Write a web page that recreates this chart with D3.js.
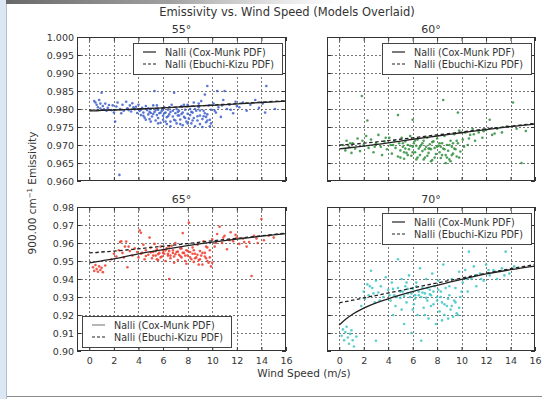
<!DOCTYPE html>
<html><head><meta charset="utf-8">
<script src="https://cdn.jsdelivr.net/npm/d3@7"></script>
<style>
html,body{margin:0;padding:0;background:#fff;}
svg{display:block;font-family:"DejaVu Sans",sans-serif;}
</style></head>
<body>
<svg id="c" width="542" height="399"></svg>
<script>
// ---- data ----
const windTicks = [0,2,4,6,8,10,12,14,16];
const modelWind = [0,0.5,1,2,4,6,8,10,12,14,16];
const yTicksTop = [0.960,0.965,0.970,0.975,0.980,0.985,0.990,0.995,1.000];
const yTicksBottom = [0.90,0.91,0.92,0.93,0.94,0.95,0.96,0.97,0.98];
const panelTitles = ["55°","60°","65°","70°"];
const legendLabels = ["Nalli (Cox-Munk PDF)","Nalli (Ebuchi-Kizu PDF)"];

const coxMunk55 = [0.9795,0.9795,0.9796,0.9797,0.9800,0.9803,0.9807,0.9810,0.9814,0.9818,0.9822];
const ebuchi55  = [0.9797,0.9797,0.9797,0.9798,0.9800,0.9803,0.9807,0.9811,0.9815,0.9819,0.9823];
const coxMunk60 = [0.9689,0.9691,0.9693,0.9697,0.9706,0.9716,0.9725,0.9734,0.9743,0.9751,0.9758];
const ebuchi60  = [0.9700,0.9701,0.9702,0.9705,0.9712,0.9720,0.9728,0.9736,0.9745,0.9752,0.9760];
const coxMunk65 = [0.9490,0.9495,0.9501,0.9512,0.9540,0.9563,0.9585,0.9605,0.9622,0.9638,0.9652];
const ebuchi65  = [0.9545,0.9547,0.9550,0.9555,0.9568,0.9582,0.9597,0.9612,0.9626,0.9640,0.9655];
const coxMunk70 = [0.9144,0.9175,0.9200,0.9238,0.9290,0.9330,0.9365,0.9398,0.9428,0.9452,0.9472];
const ebuchi70  = [0.9267,0.9274,0.9281,0.9295,0.9322,0.9350,0.9378,0.9405,0.9432,0.9457,0.9480];

const obs55 = [[0.4,0.9822],[0.5,0.9818],[0.6,0.9812],[0.7,0.9805],[0.8,0.9825],[0.9,0.9801],[1.0,0.9845],[1.1,0.9808],[1.2,0.9799],[1.3,0.9815],[1.5,0.9803],[1.6,0.9811],[1.8,0.9797],[2.0,0.9790],[2.1,0.9765],[2.2,0.9807],[2.3,0.9818],[2.45,0.9617],[2.5,0.9800],[2.7,0.9812],[2.8,0.9795],[3.0,0.9820],[3.1,0.9802],[3.3,0.9810],[3.4,0.9793],[3.5,0.9816],[3.7,0.9799],[3.8,0.9806],[3.9,0.9789],
[4.0,0.9812],[4.1,0.9795],[4.2,0.9783],[4.3,0.9803],[4.4,0.9790],[4.5,0.9776],[4.6,0.9808],[4.7,0.9797],[4.8,0.9785],[4.9,0.9772],[5.0,0.9800],[5.0,0.9789],[5.1,0.9779],[5.2,0.9810],[5.3,0.9850],[5.3,0.9792],[5.4,0.9768],[5.5,0.9783],[5.6,0.9798],[5.6,0.9775],[5.7,0.9788],[5.8,0.9762],[5.9,0.9795],[6.0,0.9781],[6.0,0.9770],[6.1,0.9805],[6.2,0.9790],[6.3,0.9758],[6.3,0.9777],[6.4,0.9798],[6.5,0.9785],[6.6,0.9765],[6.6,0.9792],[6.7,0.9812],[6.8,0.9779],[6.9,0.9845],[6.9,0.9770],[7.0,0.9788],[7.1,0.9800],[7.1,0.9760],[7.2,0.9782],[7.3,0.9795],[7.4,0.9771],[7.5,0.9808],[7.5,0.9786],[7.6,0.9755],[7.7,0.9778],[7.8,0.9798],[7.9,0.9765],[8.0,0.9812],[8.0,0.9787],[8.1,0.9773],[8.2,0.9800],[8.3,0.9760],[8.4,0.9790],[8.5,0.9818],[8.5,0.9775],[8.6,0.9752],[8.7,0.9795],[8.8,0.9768],[8.9,0.9805],[9.0,0.9782],[9.0,0.9758],[9.1,0.9822],[9.2,0.9772],[9.3,0.9795],[9.4,0.9840],[9.5,0.9763],[9.6,0.9864],[9.6,0.9785],[9.7,0.9810],[9.8,0.9770],[9.9,0.9798],
[10.1,0.9815],[10.3,0.9790],[10.4,0.9850],[10.5,0.9805],[10.7,0.9778],[10.9,0.9825],[11.0,0.9850],[11.2,0.9800],[11.4,0.9812],[11.7,0.9788],[11.9,0.9820],[12.2,0.9805],[12.5,0.9818],[12.8,0.9795],[13.1,0.9812],[13.5,0.9825],[13.8,0.9803],[14.1,0.9815],[14.3,0.9790],[14.4,0.9864],[15.1,0.9800],
[4.2,0.9798],[4.4,0.9781],[4.6,0.9770],[4.8,0.9802],[5.0,0.9765],[5.2,0.9786],[5.4,0.9797],[5.6,0.9760],[5.8,0.9790],[6.0,0.9800],[6.2,0.9765],[6.4,0.9780],[6.6,0.9752],[6.8,0.9795],[7.0,0.9768],[7.2,0.9792],[7.4,0.9758],[7.6,0.9790],[7.8,0.9775],[8.0,0.9760],[8.2,0.9783],[8.4,0.9768],[8.6,0.9800],[8.8,0.9780],[9.0,0.9796],[9.2,0.9750],[9.4,0.9788],[9.6,0.9768],[9.8,0.9752],[5.5,0.9810],[6.5,0.9805],[7.7,0.9812],[8.9,0.9815],[9.3,0.9780],[4.9,0.9792],[6.1,0.9788],[7.3,0.9782],[8.3,0.9792],[1.4,0.9795],[1.9,0.9810],[2.6,0.9788],[3.2,0.9797],[3.6,0.9805],[0.9,0.9815],[10.2,0.9795],[10.8,0.9810],[11.5,0.9798],[12.0,0.9808],[9.9,0.9760],[9.5,0.9778]];

const obs60 = [[0.3,0.9700],[0.5,0.9685],[0.6,0.9712],[0.8,0.9695],[1.0,0.9678],[1.1,0.9705],[1.3,0.9690],[1.5,0.9718],[1.7,0.9683],[1.85,0.9836],[2.0,0.9700],[2.2,0.9725],[2.3,0.9768],[2.4,0.9692],[2.6,0.9715],[2.8,0.9680],[3.0,0.9705],[3.2,0.9728],[3.4,0.9695],[3.5,0.9672],[3.7,0.9710],[3.9,0.9688],
[4.1,0.9720],[4.2,0.9700],[4.3,0.9676],[4.5,0.9712],[4.6,0.9692],[4.8,0.9783],[4.8,0.9668],[4.9,0.9705],[5.0,0.9685],[5.1,0.9720],[5.2,0.9695],[5.3,0.9662],[5.4,0.9710],[5.5,0.9678],[5.6,0.9700],[5.7,0.9688],[5.8,0.9725],[5.9,0.9670],[6.0,0.9770],[6.0,0.9695],[6.1,0.9705],[6.2,0.9680],[6.3,0.9660],[6.4,0.9715],[6.5,0.9690],[6.6,0.9672],[6.7,0.9700],[6.8,0.9683],[6.9,0.9712],[7.0,0.9665],[7.1,0.9695],[7.2,0.9720],[7.3,0.9678],[7.4,0.9702],[7.5,0.9688],[7.6,0.9658],[7.7,0.9710],[7.8,0.9692],[7.9,0.9675],[8.0,0.9718],[8.1,0.9698],[8.2,0.9680],[8.3,0.9664],[8.4,0.9705],[8.5,0.9825],[8.5,0.9690],[8.6,0.9725],[8.7,0.9672],[8.8,0.9700],[8.9,0.9684],[9.0,0.9660],[9.1,0.9712],[9.2,0.9695],[9.3,0.9676],[9.4,0.9730],[9.5,0.9688],[9.6,0.9668],[9.7,0.9790],[9.7,0.9705],[9.8,0.9740],[9.9,0.9682],
[10.1,0.9715],[10.3,0.9735],[10.5,0.9700],[10.7,0.9728],[10.9,0.9745],[11.1,0.9712],[11.4,0.9735],[11.7,0.9720],[12.0,0.9742],[12.3,0.9770],[12.5,0.9728],[12.9,0.9745],[13.3,0.9735],[13.7,0.9752],[14.2,0.9818],[14.5,0.9745],[14.9,0.9650],[15.25,0.9739],
[5.0,0.9665],[5.2,0.9705],[5.4,0.9690],[5.6,0.9672],[5.8,0.9698],[6.0,0.9680],[6.2,0.9712],[6.4,0.9665],[6.6,0.9695],[6.8,0.9705],[7.0,0.9688],[7.2,0.9670],[7.4,0.9690],[7.6,0.9708],[7.8,0.9665],[8.0,0.9695],[8.2,0.9705],[8.4,0.9672],[8.6,0.9688],[8.8,0.9665],[9.0,0.9700],[9.2,0.9672],[9.4,0.9690],[9.6,0.9712],[9.8,0.9665],[5.3,0.9680],[6.3,0.9698],[7.3,0.9690],[8.3,0.9695],[9.3,0.9705],[4.4,0.9700],[3.8,0.9720],[2.9,0.9695],[1.9,0.9712],[0.9,0.9705],[10.2,0.9695],[10.6,0.9718],[11.0,0.9730],[11.8,0.9738],[12.7,0.9732],[7.5,0.9655],[8.7,0.9650],[9.1,0.9655],[6.9,0.9660]];

const obs65 = [[0.3,0.9465],[0.4,0.9445],[0.5,0.9478],[0.6,0.9455],[0.7,0.9440],[0.8,0.9470],[0.9,0.9450],[1.0,0.9462],[1.1,0.9438],[1.3,0.9475],[1.8,0.9510],[2.0,0.9540],[2.2,0.9525],[2.4,0.9560],[2.5,0.9605],[2.6,0.9610],[2.7,0.9545],[2.9,0.9580],[3.0,0.9608],[3.1,0.9465],[3.3,0.9555],[3.5,0.9530],[3.7,0.9570],
[4.0,0.9520],[4.1,0.9670],[4.2,0.9657],[4.3,0.9545],[4.4,0.9590],[4.5,0.9510],[4.6,0.9560],[4.8,0.9535],[4.9,0.9630],[5.0,0.9575],[5.1,0.9515],[5.2,0.9550],[5.3,0.9595],[5.4,0.9530],[5.5,0.9565],[5.6,0.9505],[5.7,0.9545],[5.8,0.9580],[5.9,0.9525],[6.0,0.9560],[6.1,0.9540],[6.2,0.9500],[6.3,0.9570],[6.4,0.9530],[6.5,0.9400],[6.5,0.9555],[6.6,0.9515],[6.7,0.9585],[6.8,0.9545],[6.9,0.9525],[7.0,0.9600],[7.1,0.9550],[7.2,0.9505],[7.3,0.9535],[7.4,0.9570],[7.5,0.9520],[7.6,0.9655],[7.7,0.9545],[7.8,0.9500],[7.9,0.9560],[8.0,0.9530],[8.1,0.9713],[8.2,0.9550],[8.3,0.9510],[8.4,0.9575],[8.5,0.9495],[8.6,0.9540],[8.7,0.9520],[8.8,0.9590],[8.9,0.9505],[9.0,0.9555],[9.1,0.9530],[9.2,0.9480],[9.3,0.9610],[9.4,0.9545],[9.5,0.9515],[9.6,0.9575],[9.7,0.9490],[9.8,0.9560],[9.9,0.9470],
[10.0,0.9620],[10.2,0.9580],[10.4,0.9650],[10.6,0.9690],[10.8,0.9600],[11.0,0.9640],[11.2,0.9565],[11.5,0.9660],[11.7,0.9610],[11.9,0.9645],[12.2,0.9595],[12.5,0.9625],[12.8,0.9580],[13.0,0.9605],[13.2,0.9417],[13.4,0.9640],[13.7,0.9600],[14.0,0.9733],[14.2,0.9615],[14.6,0.9640],[15.0,0.9630],
[4.2,0.9540],[4.6,0.9528],[5.0,0.9548],[5.2,0.9530],[5.4,0.9555],[5.6,0.9538],[5.8,0.9520],[6.0,0.9545],[6.2,0.9558],[6.4,0.9540],[6.6,0.9530],[6.8,0.9560],[7.0,0.9538],[7.2,0.9552],[7.4,0.9528],[7.6,0.9545],[7.8,0.9530],[8.0,0.9555],[8.2,0.9520],[8.4,0.9540],[8.6,0.9515],[8.8,0.9535],[9.0,0.9510],[9.2,0.9545],[9.4,0.9525],[9.6,0.9500],[9.8,0.9520],[10.0,0.9490],[5.5,0.9510],[6.5,0.9580],[7.5,0.9570],[8.5,0.9560],[9.5,0.9580],[3.9,0.9550],[3.2,0.9580],[2.8,0.9520],[10.3,0.9600],[10.9,0.9630],[11.4,0.9615],[12.0,0.9630],[12.6,0.9605],[13.6,0.9625],[6.9,0.9490],[7.9,0.9485],[8.9,0.9480]];

const obs70 = [[0.2,0.9085],[0.3,0.9120],[0.4,0.9060],[0.5,0.9105],[0.6,0.9135],[0.7,0.9075],[0.8,0.9040],[0.9,0.9095],[1.0,0.9115],[1.1,0.9060],[1.2,0.9025],[1.4,0.9080],[1.8,0.9250],[2.0,0.9330],[2.1,0.9290],[2.3,0.9370],[2.4,0.9310],[2.6,0.9446],[2.7,0.9350],[2.9,0.9270],[3.0,0.9057],[3.0,0.9390],[3.2,0.9325],[3.4,0.9360],[3.6,0.9300],[3.8,0.9410],
[4.0,0.9340],[4.2,0.9280],[4.3,0.9380],[4.5,0.9310],[4.6,0.9250],[4.8,0.9510],[4.8,0.9350],[5.0,0.9295],[5.1,0.9400],[5.2,0.9330],[5.3,0.9150],[5.4,0.9360],[5.5,0.9270],[5.6,0.9320],[5.7,0.9420],[5.8,0.9300],[5.9,0.9100],[6.0,0.9345],[6.1,0.9260],[6.2,0.9310],[6.3,0.9380],[6.4,0.9200],[6.5,0.9330],[6.6,0.9460],[6.7,0.9057],[6.7,0.9300],[6.8,0.9350],[6.9,0.9240],[7.0,0.9320],[7.1,0.9400],[7.2,0.9280],[7.3,0.9180],[7.4,0.9340],[7.5,0.9310],[7.6,0.9430],[7.7,0.9260],[7.8,0.9360],[7.9,0.9150],[8.0,0.9300],[8.1,0.9390],[8.2,0.9220],[8.3,0.9330],[8.4,0.9270],[8.5,0.9480],[8.6,0.9200],[8.7,0.9350],[8.8,0.9250],[8.9,0.9180],[9.0,0.9310],[9.1,0.9230],[9.2,0.9400],[9.3,0.9190],[9.4,0.9280],[9.5,0.9350],[9.6,0.9210],[9.8,0.9440],[9.9,0.9300],
[10.1,0.9380],[10.3,0.9450],[10.5,0.9330],[10.6,0.9552],[10.8,0.9400],[11.0,0.9470],[11.2,0.9360],[11.5,0.9430],[11.8,0.9390],[12.0,0.9480],[12.3,0.9420],[12.6,0.9450],[12.9,0.9400],[13.3,0.9460],[13.6,0.9552],[13.9,0.9430],[14.3,0.9470],
[4.1,0.9310],[4.4,0.9345],[4.7,0.9300],[5.0,0.9330],[5.3,0.9305],[5.6,0.9345],[5.9,0.9320],[6.2,0.9290],[6.5,0.9310],[6.8,0.9325],[7.1,0.9295],[7.4,0.9315],[7.7,0.9330],[8.0,0.9280],[8.3,0.9300],[8.6,0.9260],[8.9,0.9290],[9.2,0.9250],[9.5,0.9270],[9.8,0.9240],[5.5,0.9380],[6.3,0.9360],[7.2,0.9350],[8.1,0.9340],[9.0,0.9360],[3.3,0.9280],[2.8,0.9320],[2.5,0.9360],[10.0,0.9330],[10.4,0.9400],[11.1,0.9420],[11.6,0.9400],[12.2,0.9450],[12.8,0.9440],[13.5,0.9420],[6.0,0.9230],[7.0,0.9200],[7.5,0.9250],[8.4,0.9170],[9.7,0.9200],[5.1,0.9230],[4.4,0.9200]];

// ---- layout ----
const svg = d3.select("#c");
const W = 542, H = 399;
const defs = svg.append("defs");
const g1 = defs.append("linearGradient").attr("id","shadow").attr("x1","0").attr("x2","1").attr("y1","0").attr("y2","0");
g1.append("stop").attr("offset","0").attr("stop-color","#555").attr("stop-opacity",0.9);
g1.append("stop").attr("offset","0.5").attr("stop-color","#777").attr("stop-opacity",0.7);
g1.append("stop").attr("offset","1").attr("stop-color","#aaa").attr("stop-opacity",0);
svg.append("rect").attr("x",0).attr("y",0).attr("width",W).attr("height",H).attr("fill","#fff");
svg.append("rect").attr("x",0).attr("y",0).attr("width",340).attr("height",4).attr("fill","url(#shadow)");
svg.append("rect").attr("x",0).attr("y",0).attr("width",6).attr("height",H).attr("fill","#dbe8f4");
svg.append("line").attr("x1",6.5).attr("x2",6.5).attr("y1",4).attr("y2",H).attr("stroke","#aebfd0");
svg.append("line").attr("x1",7).attr("x2",W).attr("y1",396.5).attr("y2",396.5).attr("stroke","#8a8a8a");

const panels = [
  {x0:77,x1:286,y0:37,y1:181,yd:[0.960,1.000],yt:yTicksTop,fmt:d3.format(".3f"),showY:true,showX:false,obs:obs55,cm:coxMunk55,ek:ebuchi55,col:"#3d5fcc",title:panelTitles[0],leg:"ur"},
  {x0:327,x1:535,y0:37,y1:181,yd:[0.960,1.000],yt:yTicksTop,fmt:d3.format(".3f"),showY:false,showX:false,obs:obs60,cm:coxMunk60,ek:ebuchi60,col:"#2f8f3c",title:panelTitles[1],leg:"ur"},
  {x0:77,x1:286,y0:207,y1:351,yd:[0.90,0.98],yt:yTicksBottom,fmt:d3.format(".2f"),showY:true,showX:true,obs:obs65,cm:coxMunk65,ek:ebuchi65,col:"#ef3a2a",title:panelTitles[2],leg:"ll"},
  {x0:327,x1:535,y0:207,y1:351,yd:[0.90,0.98],yt:yTicksBottom,fmt:d3.format(".2f"),showY:false,showX:true,obs:obs70,cm:coxMunk70,ek:ebuchi70,col:"#3cc6c6",title:panelTitles[3],leg:"ur"}
];

const txt = "#333";
panels.forEach(p => {
  const x = d3.scaleLinear().domain([-1,16]).range([p.x0,p.x1]);
  const y = d3.scaleLinear().domain(p.yd).range([p.y1,p.y0]);
  const g = svg.append("g");
  // grid
  g.selectAll(".vg").data(windTicks.filter(t=>t<16)).join("line")
    .attr("x1",d=>Math.round(x(d))+0.5).attr("x2",d=>Math.round(x(d))+0.5).attr("y1",p.y0).attr("y2",p.y1)
    .attr("stroke","#555").attr("stroke-width",0.8).attr("stroke-dasharray","2,2");
  g.selectAll(".hg").data(p.yt.slice(1,-1)).join("line")
    .attr("y1",d=>Math.round(y(d))+0.5).attr("y2",d=>Math.round(y(d))+0.5).attr("x1",p.x0).attr("x2",p.x1)
    .attr("stroke","#555").attr("stroke-width",0.8).attr("stroke-dasharray","2,2");
  // axes (inward ticks on all sides)
  const ax = g.append("g").attr("transform",`translate(0,${p.y1})`)
    .call(d3.axisBottom(x).tickValues(windTicks).tickSize(-4).tickPadding(6).tickFormat(p.showX? d3.format("d") : ()=>""));
  const axT = g.append("g").attr("transform",`translate(0,${p.y0})`)
    .call(d3.axisTop(x).tickValues(windTicks).tickSize(-4).tickFormat(()=>""));
  const ay = g.append("g").attr("transform",`translate(${p.x0},0)`)
    .call(d3.axisLeft(y).tickValues(p.yt).tickSize(-4).tickPadding(3).tickFormat(p.showY? p.fmt : ()=>""));
  const ayR = g.append("g").attr("transform",`translate(${p.x1},0)`)
    .call(d3.axisRight(y).tickValues(p.yt).tickSize(-4).tickFormat(()=>""));
  [ax,axT,ay,ayR].forEach(a=>{
    a.select(".domain").remove();
    a.selectAll(".tick line").attr("stroke","#333");
    a.selectAll(".tick text").attr("fill",txt).attr("font-size","9.5px").attr("font-family","DejaVu Sans, sans-serif");
  });
  // points
  g.selectAll(".pt").data(p.obs).join("circle")
    .attr("cx",d=>x(d[0])).attr("cy",d=>y(d[1])).attr("r",1.3)
    .attr("fill",p.col).attr("fill-opacity",0.85);
  // model lines
  const line = d3.line().x((d,i)=>x(modelWind[i])).y(d=>y(d)).curve(d3.curveMonotoneX);
  g.append("path").attr("d",line(p.cm)).attr("fill","none").attr("stroke","#222").attr("stroke-width",1.3);
  g.append("path").attr("d",line(p.ek)).attr("fill","none").attr("stroke","#222").attr("stroke-width",1.3).attr("stroke-dasharray","3.5,2.5");
  // frame
  g.append("rect").attr("x",p.x0+0.5).attr("y",p.y0+0.5).attr("width",p.x1-p.x0-1).attr("height",p.y1-p.y0-1)
    .attr("fill","none").attr("stroke","#333").attr("stroke-width",1);
  // title
  g.append("text").attr("x",(p.x0+p.x1)/2).attr("y",p.y0-4).attr("text-anchor","middle")
    .attr("font-size","11px").attr("fill",txt).text(p.title);
  // legend
  const lw = 149, lh = 31;
  const lx = p.leg==="ur" ? p.x1-4-lw : p.x0+5;
  const ly = p.leg==="ur" ? p.y0+6 : p.y1-4-lh;
  const lg = g.append("g");
  lg.append("rect").attr("x",lx+0.5).attr("y",ly+0.5).attr("width",lw).attr("height",lh).attr("fill","#fff").attr("stroke","#444");
  legendLabels.forEach((lab,i)=>{
    const yy = ly + 9 + i*12;
    lg.append("line").attr("x1",lx+10).attr("x2",lx+23).attr("y1",yy).attr("y2",yy)
      .attr("stroke", p.leg==="ll" && i===0 ? "#888" : "#222").attr("stroke-width",1.2)
      .attr("stroke-dasharray", i===1 ? "3,2" : null);
    lg.append("text").attr("x",lx+32).attr("y",yy+3.5).attr("font-size","9.6px").attr("fill",txt).text(lab);
  });
});

// figure title & axis labels
svg.append("text").attr("x",287).attr("y",16).attr("text-anchor","middle").attr("font-size","11.5px").attr("fill",txt)
  .text("Emissivity vs. Wind Speed (Models Overlaid)");
svg.append("text").attr("x",304).attr("y",377).attr("text-anchor","middle").attr("font-size","10.5px").attr("fill",txt)
  .text("Wind Speed (m/s)");
const yl = svg.append("text").attr("transform","translate(36,193) rotate(-90)").attr("text-anchor","middle").attr("font-size","10.5px").attr("fill",txt);
yl.append("tspan").text("900.00 cm");
yl.append("tspan").attr("dy",-4).attr("font-size","7px").text("−1");
yl.append("tspan").attr("dy",4).text(" Emissivity");
</script>
</body></html>
